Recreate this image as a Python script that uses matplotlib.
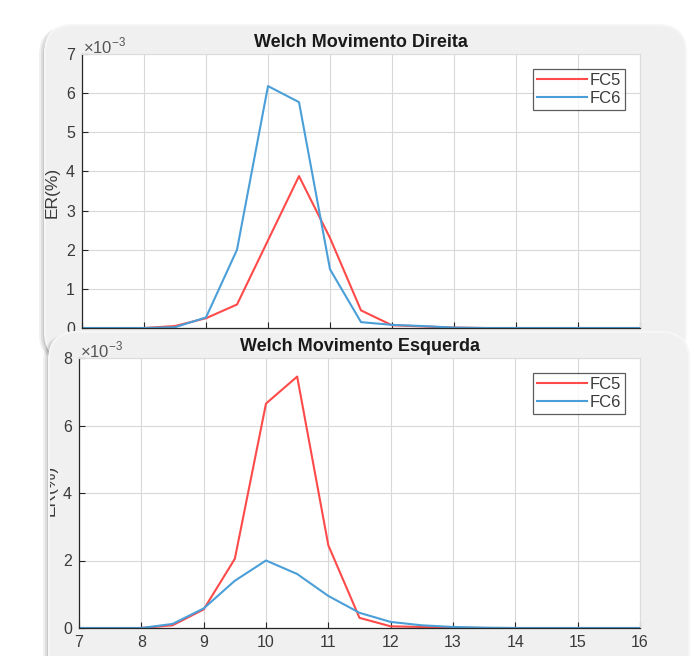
import matplotlib
matplotlib.use("Agg")
import matplotlib.pyplot as plt
from matplotlib.patches import FancyBboxPatch
from matplotlib.transforms import Bbox, TransformedBbox

plt.rcParams['font.family'] = ['Liberation Sans', 'DejaVu Sans']
plt.rcParams['mathtext.fontset'] = 'custom'
plt.rcParams['mathtext.rm'] = 'Liberation Sans'

freq = [7, 7.5, 8, 8.5, 9, 9.5, 10, 10.5, 11, 11.5, 12, 12.5, 13, 13.5, 14, 14.5, 15, 15.5, 16]

dir_fc5 = [0, 0, 0, 0.05, 0.25, 0.60, 2.24, 3.88, 2.30, 0.45, 0.07, 0.04, 0.01, 0, 0, 0, 0, 0, 0]
dir_fc6 = [0, 0, 0, 0.02, 0.27, 2.00, 6.18, 5.77, 1.50, 0.15, 0.08, 0.05, 0.01, 0, 0, 0, 0, 0, 0]

esq_fc5 = [0, 0, 0, 0.08, 0.55, 2.05, 6.65, 7.45, 2.45, 0.30, 0.05, 0.03, 0.01, 0, 0, 0, 0, 0, 0]
esq_fc6 = [0, 0, 0, 0.12, 0.58, 1.40, 2.00, 1.60, 0.95, 0.45, 0.18, 0.08, 0.03, 0.01, 0, 0, 0, 0, 0]

titles = ["Welch Movimento Direita", "Welch Movimento Esquerda"]
series_names = ["FC5", "FC6"]
ylabel = "ER(%)"
x_ticks = list(range(7, 17))
y_ticks_top = list(range(0, 8))
y_ticks_bot = [0, 2, 4, 6, 8]

W, H = 695, 656
fig = plt.figure(figsize=(W / 100, H / 100), dpi=100)
fig.patch.set_facecolor('white')

RED = '#ff4a4a'
BLUE = '#4a9fd8'
TXT = '#3a3a3a'


def px_axes(x0, y0, x1, y1, z):
    return fig.add_axes([x0 / W, 1 - y1 / H, (x1 - x0) / W, (y1 - y0) / H], zorder=z)


def panel(x0, y0, x1, y1, z):
    bg = fig.add_axes([0, 0, 1, 1], zorder=z)
    bg.set_xlim(0, W)
    bg.set_ylim(H, 0)
    bg.axis('off')
    bg.patch.set_alpha(0)
    for i, a in enumerate([0.06, 0.08, 0.10]):
        d = 6 - 2 * i
        sh = FancyBboxPatch((x0 - d, y0 + 2), (x1 - x0) + d * 0.5, (y1 - y0),
                            boxstyle="round,pad=0,rounding_size=28",
                            facecolor='black', edgecolor='none', alpha=a)
        bg.add_patch(sh)
    p = FancyBboxPatch((x0, y0), x1 - x0, y1 - y0,
                       boxstyle="round,pad=0,rounding_size=28",
                       facecolor='#f0f0f0', edgecolor='#f6f6f6', linewidth=1.5)
    bg.add_patch(p)
    return bg, p


def style(ax, yt, ymax, show_xlabels):
    ax.set_xlim(7, 16)
    ax.set_ylim(0, ymax)
    ax.set_xticks(x_ticks)
    ax.set_yticks(yt)
    ax.grid(True, color='#d8d8d8', linewidth=0.8)
    ax.set_axisbelow(True)
    for s in ['top', 'right']:
        ax.spines[s].set_color('#dcdcdc')
        ax.spines[s].set_linewidth(0.8)
    for s in ['left', 'bottom']:
        ax.spines[s].set_color('#262626')
        ax.spines[s].set_linewidth(0.9)
    ax.tick_params(direction='in', length=4, width=0.8, color='#262626',
                   labelsize=11.5, labelcolor=TXT, pad=5)
    if not show_xlabels:
        ax.tick_params(axis='x', labelbottom=False)


def legend(ax):
    leg = ax.legend(loc='upper right', fontsize=12, frameon=True, fancybox=False,
                    handlelength=3.0, handletextpad=0.15, borderpad=0.25,
                    labelspacing=0.15, borderaxespad=0.9)
    leg.get_frame().set_edgecolor('#333333')
    leg.get_frame().set_linewidth(0.9)
    for t in leg.get_texts():
        t.set_color(TXT)


# Top panel
bg1, p1 = panel(45, 25, 686, 360, 1)
ax1 = px_axes(82, 54, 640, 328, 2)
ax1.plot(freq, dir_fc5, color=RED, lw=1.5, label=series_names[0])
ax1.plot(freq, dir_fc6, color=BLUE, lw=1.5, label=series_names[1])
style(ax1, y_ticks_top, 7, False)
legend(ax1)
ax1.set_title(titles[0], fontsize=13, fontweight='bold', color='#1a1a1a', pad=5)
bg1.text(52, 192, ylabel, rotation=90, fontsize=12.5, color=TXT, ha='center', va='center')
bg1.text(83, 46, r'$\times10^{-3}$', fontsize=12, color='#555555', ha='left', va='center')

# Bottom panel
bg2, p2 = panel(49, 332, 689, 700, 3)
ax2 = px_axes(79, 358, 640, 628, 4)
ax2.plot(freq, esq_fc5, color=RED, lw=1.5, label=series_names[0])
ax2.plot(freq, esq_fc6, color=BLUE, lw=1.5, label=series_names[1])
style(ax2, y_ticks_bot, 8, True)
legend(ax2)
ax2.set_title(titles[1], fontsize=13, fontweight='bold', color='#1a1a1a', pad=5)
t = bg2.text(50, 490, ylabel, rotation=90, fontsize=12.5, color=TXT, ha='center', va='center')
t.set_clip_box(TransformedBbox(Bbox([[50, 340], [689, 656]]), bg2.transData))
t.set_clip_on(True)
bg2.text(80, 350, r'$\times10^{-3}$', fontsize=12, color='#555555', ha='left', va='center')

fig.savefig('out.png', dpi=100, facecolor='white')
